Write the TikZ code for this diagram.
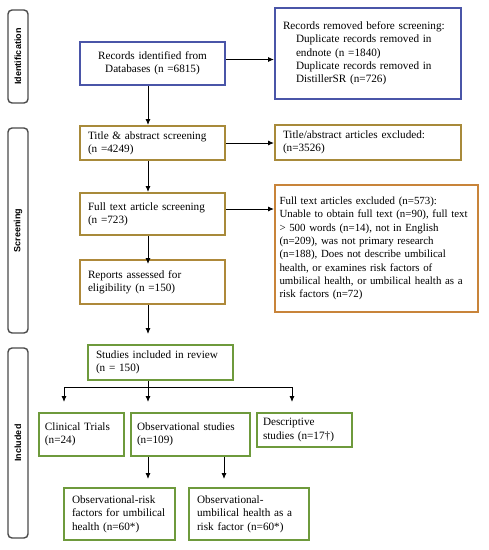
\documentclass[tikz,border=0pt]{standalone}
\usepackage{fontspec}
\setmainfont{Liberation Serif}
\newfontfamily\sidefont{Liberation Sans}
\usetikzlibrary{arrows.meta}
\definecolor{cblue}{HTML}{4A55A8}
\definecolor{cgold}{HTML}{A88A3A}
\definecolor{corange}{HTML}{C8843A}
\definecolor{cgreen}{HTML}{6E9A3C}
\definecolor{cside}{HTML}{4A4A4A}
\begin{document}
\begin{tikzpicture}[x=1pt,y=-1pt,
  box/.style={draw, line width=2pt, fill=white, inner xsep=8pt, inner ysep=0pt, align=left,
    font=\fontsize{11.2pt}{13.3pt}\selectfont},
  sidelabel/.style={draw=cside, line width=1.4pt, rounded corners=4pt, fill=white, rotate=90,
    inner sep=0pt, minimum height=20pt, font=\sidefont\fontsize{9pt}{10pt}\selectfont\bfseries},
  arr/.style={line width=0.9pt, -{Latex[length=6pt,width=5pt]}},
  ln/.style={line width=0.9pt}]
\useasboundingbox (0,0) rectangle (489,550);
\fill[white] (0,0) rectangle (489,550);
% side labels
\node[sidelabel, minimum width=93pt] (sid) at (18,56.5) {Identification};
\node[sidelabel, minimum width=205pt] (sscr) at (18,230.5) {Screening};
\node[sidelabel, minimum width=190pt] (sinc) at (18,443) {Included};
% main column
\node[box, draw=cblue, minimum width=145pt, text width=129pt, minimum height=43pt, align=center] (rec) at (152.5,63.5)
  {Records identified from\\Databases (n =6815)};
\node[box, draw=cblue, minimum width=186pt, text width=170pt, minimum height=91pt] (rem) at (368,53.5)
  {Records removed before screening:\\
   \hspace*{13pt}Duplicate records removed in\\
   \hspace*{13pt}endnote (n =1840)\\
   \hspace*{13pt}Duplicate records removed in\\
   \hspace*{13pt}DistillerSR (n=726)};
\node[box, draw=cgold, minimum width=145pt, text width=129pt, minimum height=34pt] (tas) at (152.5,143)
  {Title \& abstract screening\\(n =4249)};
\node[box, draw=cgold, minimum width=186pt, text width=170pt, minimum height=35pt] (tae) at (368,142.5)
  {Title/abstract articles excluded:\\(n=3526)};
\node[box, draw=cgold, minimum width=145pt, text width=129pt, minimum height=42pt] (fts) at (152.5,214)
  {Full text article screening\\(n =723)};
\node[box, draw=corange, minimum width=203pt, text width=194pt, minimum height=127pt, inner xsep=4.5pt,
      font=\fontsize{10.9pt}{13.3pt}\selectfont] (fte) at (376.5,248.5)
  {Full text articles excluded (n=573):\\
   Unable to obtain full text (n=90), full text\\
   > 500 words (n=14), not in English\\
   (n=209), was not primary research\\
   (n=188), Does not describe umbilical\\
   health, or examines risk factors of\\
   umbilical health, or umbilical health as a\\
   risk factors (n=72)};
\node[box, draw=cgold!80!corange, minimum width=145pt, text width=129pt, minimum height=44pt] (rep) at (152.5,282)
  {Reports assessed for\\eligibility (n =150)};
\node[box, draw=cgreen, minimum width=145pt, text width=129pt, minimum height=35pt] (incl) at (160.5,362.5)
  {Studies included in review\\(n = 150)};
\node[box, draw=cgreen, minimum width=85pt, text width=73pt, minimum height=43pt, inner xsep=6pt] (ct) at (81.5,434.5)
  {Clinical Trials\\(n=24)};
\node[box, draw=cgreen, minimum width=119pt, text width=107pt, minimum height=43pt, inner xsep=6pt] (obs) at (190.5,434.5)
  {Observational studies\\(n=109)};
\node[box, draw=cgreen, minimum width=95pt, text width=83pt, minimum height=34pt, inner xsep=6pt] (des) at (304.5,430)
  {Descriptive\\studies (n=17\textdagger)};
\node[box, draw=cgreen, minimum width=111pt, text width=95pt, minimum height=52pt] (orf) at (119.5,514)
  {Observational-risk\\factors for umbilical\\health (n=60*)};
\node[box, draw=cgreen, minimum width=120pt, text width=104pt, minimum height=52pt] (ouh) at (249,514)
  {Observational-\\umbilical health as a\\risk factor (n=60*)};
% connectors
\coordinate (cx) at (148,0);
\coordinate (cx2) at (224,0);
\coordinate (brY) at (0,387);
\draw[arr] (rec.south -| cx) -- (tas.north -| cx);
\draw[arr] (tas.south -| cx) -- (fts.north -| cx);
\draw[arr] (fts.south -| cx) -- ([yshift=-5pt]rep.north -| cx);
\draw[arr] (rep.south -| cx) -- ([yshift=10pt]incl.north -| cx);
\draw[arr] ([yshift=4pt]rec.east) -- ([yshift=4pt]rec.east -| rem.west);
\draw[arr] (tas.east) -- (tas.east -| tae.west);
\draw[arr] ([yshift=5pt]fts.east) -- ([yshift=5pt]fts.east -| fte.west);
\draw[ln] (incl.south -| cx) -- (brY -| cx);
\draw[ln] (brY -| 64,0) -- (brY -| 292,0);
\draw[arr] (brY -| 64,0) -- ([yshift=10pt]ct.north -| 64,0);
\draw[arr] (brY -| cx) -- ([yshift=10pt]obs.north -| cx);
\draw[arr] (brY -| 292,0) -- ([yshift=10pt]des.north -| 292,0);
\draw[arr] (obs.south -| cx) -- ([yshift=8pt]orf.north -| cx);
\draw[arr] (obs.south -| cx2) -- ([yshift=8pt]ouh.north -| cx2);
\end{tikzpicture}
\end{document}
